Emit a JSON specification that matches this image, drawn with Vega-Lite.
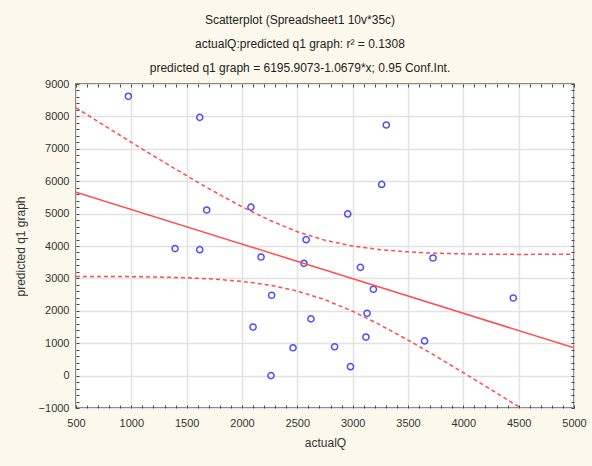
{
  "$schema": "https://vega.github.io/schema/vega-lite/v6.json",
  "width": 498,
  "height": 324,
  "autosize": {"type": "none"},
  "padding": {"left": 76, "top": 84, "right": 18, "bottom": 58},
  "background": "#fdf8ec",
  "config": {
    "view": {"fill": "white", "stroke": "#404040", "strokeWidth": 1.5},
    "font": "Liberation Sans",
    "axis": {"labelFont": "Liberation Sans", "titleFont": "Liberation Sans", "labelColor": "#333", "titleColor": "#333", "labelFontSize": 11, "titleFontSize": 12, "titleFontWeight": "normal"}
  },
  "title": {
    "text": ["Scatterplot (Spreadsheet1 10v*35c)", "actualQ:predicted q1 graph:  r² = 0.1308", "predicted q1 graph = 6195.9073-1.0679*x; 0.95 Conf.Int."],
    "fontSize": 12,
    "fontWeight": "normal",
    "font": "Liberation Sans",
    "color": "#222",
    "lineHeight": 24,
    "offset": 3,
    "dx": -25,
    "anchor": "middle"
  },
  "datasets": {
    "pts": [
      {"actualQ": 973, "pred": 8620}, {"actualQ": 1618, "pred": 7970}, {"actualQ": 1681, "pred": 5110},
      {"actualQ": 2081, "pred": 5200}, {"actualQ": 2580, "pred": 4195}, {"actualQ": 1395, "pred": 3920},
      {"actualQ": 1618, "pred": 3886}, {"actualQ": 2172, "pred": 3660}, {"actualQ": 2560, "pred": 3465},
      {"actualQ": 2268, "pred": 2480}, {"actualQ": 2100, "pred": 1500}, {"actualQ": 2623, "pred": 1750},
      {"actualQ": 2461, "pred": 860}, {"actualQ": 2262, "pred": 0}, {"actualQ": 3304, "pred": 7735},
      {"actualQ": 3262, "pred": 5900}, {"actualQ": 2955, "pred": 4990}, {"actualQ": 3070, "pred": 3340},
      {"actualQ": 3726, "pred": 3630}, {"actualQ": 3187, "pred": 2665}, {"actualQ": 4451, "pred": 2395},
      {"actualQ": 3130, "pred": 1925}, {"actualQ": 3120, "pred": 1190}, {"actualQ": 3650, "pred": 1070},
      {"actualQ": 2837, "pred": 890}, {"actualQ": 2980, "pred": 275}
    ],
    "fit": [{"actualQ": 500, "pred": 5662}, {"actualQ": 5000, "pred": 856}],
    "upper": [
      {"actualQ": 500, "pred": 8266}, {"actualQ": 750, "pred": 7731}, {"actualQ": 1000, "pred": 7201},
      {"actualQ": 1250, "pred": 6679}, {"actualQ": 1500, "pred": 6169}, {"actualQ": 1750, "pred": 5676},
      {"actualQ": 2000, "pred": 5212}, {"actualQ": 2250, "pred": 4793}, {"actualQ": 2500, "pred": 4441},
      {"actualQ": 2750, "pred": 4177}, {"actualQ": 3000, "pred": 3998}, {"actualQ": 3250, "pred": 3887},
      {"actualQ": 3500, "pred": 3819}, {"actualQ": 3750, "pred": 3779}, {"actualQ": 4000, "pred": 3757},
      {"actualQ": 4250, "pred": 3745}, {"actualQ": 4500, "pred": 3741}, {"actualQ": 4750, "pred": 3742},
      {"actualQ": 5000, "pred": 3748}
    ],
    "lower": [
      {"actualQ": 500, "pred": 3058}, {"actualQ": 750, "pred": 3059}, {"actualQ": 1000, "pred": 3055},
      {"actualQ": 1250, "pred": 3043}, {"actualQ": 1500, "pred": 3019}, {"actualQ": 1750, "pred": 2978},
      {"actualQ": 2000, "pred": 2908}, {"actualQ": 2250, "pred": 2793}, {"actualQ": 2500, "pred": 2611},
      {"actualQ": 2750, "pred": 2341}, {"actualQ": 3000, "pred": 1986}, {"actualQ": 3250, "pred": 1563},
      {"actualQ": 3500, "pred": 1097}, {"actualQ": 3750, "pred": 603}, {"actualQ": 4000, "pred": 91},
      {"actualQ": 4250, "pred": -431}, {"actualQ": 4500, "pred": -961}, {"actualQ": 4750, "pred": -1496}
    ]
  },
  "layer": [
    {
      "data": {"name": "pts"},
      "mark": {"type": "point", "shape": "circle", "filled": false, "size": 38, "strokeWidth": 1.5, "color": "#4b4bff", "opacity": 1},
      "encoding": {
        "x": {
          "field": "actualQ", "type": "quantitative",
          "scale": {"domain": [500, 5000], "nice": false, "zero": false},
          "axis": {"title": "actualQ", "format": "d", "values": [500, 1000, 1500, 2000, 2500, 3000, 3500, 4000, 4500, 5000], "ticks": false, "domain": false, "grid": true, "gridColor": "#e2e2e2", "gridWidth": 1.5, "labelPadding": 9, "titlePadding": 9, "labelFlush": false}
        },
        "y": {
          "field": "pred", "type": "quantitative",
          "scale": {"domain": [-1000, 9000], "nice": false, "zero": false},
          "axis": {"title": "predicted q1 graph", "format": "d", "values": [-1000, 0, 1000, 2000, 3000, 4000, 5000, 6000, 7000, 8000, 9000], "ticks": false, "domain": false, "grid": true, "gridColor": "#e2e2e2", "gridWidth": 1.5, "labelPadding": 7, "titlePadding": 11, "labelFlush": false}
        }
      }
    },
    {
      "data": {"name": "fit"},
      "mark": {"type": "line", "color": "#ff4d4d", "strokeWidth": 1.5, "clip": true},
      "encoding": {
        "x": {"field": "actualQ", "type": "quantitative", "axis": {"orient": "bottom", "title": null, "labels": false, "grid": false, "domain": false, "tickSize": -3, "tickColor": "#444", "values": [500,600,700,800,900,1000,1100,1200,1300,1400,1500,1600,1700,1800,1900,2000,2100,2200,2300,2400,2500,2600,2700,2800,2900,3000,3100,3200,3300,3400,3500,3600,3700,3800,3900,4000,4100,4200,4300,4400,4500,4600,4700,4800,4900,5000]}},
        "y": {"field": "pred", "type": "quantitative", "axis": {"orient": "left", "title": null, "labels": false, "grid": false, "domain": false, "tickSize": -3, "tickColor": "#444", "values": [-1000,-800,-600,-400,-200,0,200,400,600,800,1000,1200,1400,1600,1800,2000,2200,2400,2600,2800,3000,3200,3400,3600,3800,4000,4200,4400,4600,4800,5000,5200,5400,5600,5800,6000,6200,6400,6600,6800,7000,7200,7400,7600,7800,8000,8200,8400,8600,8800,9000]}}
      }
    },
    {
      "data": {"name": "upper"},
      "mark": {"type": "line", "color": "#ff4d4d", "strokeWidth": 1.5, "strokeDash": [4, 3], "clip": true},
      "encoding": {
        "x": {"field": "actualQ", "type": "quantitative", "axis": {"orient": "top", "title": null, "labels": false, "grid": false, "domain": false, "tickSize": -3, "tickColor": "#444", "values": [500,600,700,800,900,1000,1100,1200,1300,1400,1500,1600,1700,1800,1900,2000,2100,2200,2300,2400,2500,2600,2700,2800,2900,3000,3100,3200,3300,3400,3500,3600,3700,3800,3900,4000,4100,4200,4300,4400,4500,4600,4700,4800,4900,5000]}},
        "y": {"field": "pred", "type": "quantitative", "axis": {"orient": "right", "title": null, "labels": false, "grid": false, "domain": false, "tickSize": -3, "tickColor": "#444", "values": [-1000,-800,-600,-400,-200,0,200,400,600,800,1000,1200,1400,1600,1800,2000,2200,2400,2600,2800,3000,3200,3400,3600,3800,4000,4200,4400,4600,4800,5000,5200,5400,5600,5800,6000,6200,6400,6600,6800,7000,7200,7400,7600,7800,8000,8200,8400,8600,8800,9000]}}
      }
    },
    {
      "data": {"name": "lower"},
      "mark": {"type": "line", "color": "#ff4d4d", "strokeWidth": 1.5, "strokeDash": [4, 3], "clip": true},
      "encoding": {
        "x": {"field": "actualQ", "type": "quantitative", "axis": null},
        "y": {"field": "pred", "type": "quantitative", "axis": null}
      }
    }
  ],
  "resolve": {"axis": {"x": "independent", "y": "independent"}}
}
